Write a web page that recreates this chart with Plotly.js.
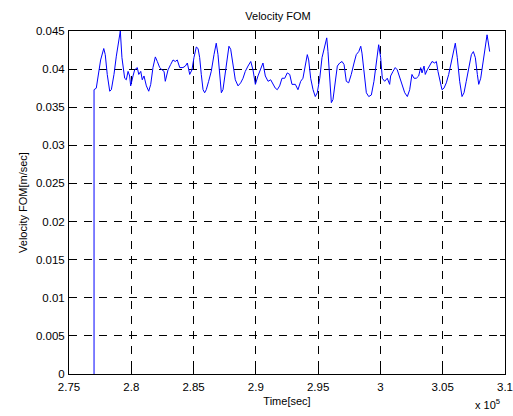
<!DOCTYPE html>
<html>
<head>
<meta charset="utf-8">
<script src="https://cdn.plot.ly/plotly-3.0.1.min.js"></script>
<style>html,body{margin:0;padding:0;background:#fff;}#chart{width:513px;height:416px;}</style>
</head>
<body>
<div id="chart"></div>
<script>
// Time in seconds
var timeSec = [277010, 277010, 277190, 277330, 277540, 277790, 277910, 278070, 278270, 278400, 278610,
  278800, 278990, 279120, 279250, 279470, 279600, 279740, 279870, 279950, 280140, 280270, 280480,
  280600, 280760, 280880, 281020, 281210, 281400, 281560, 281740, 281930, 282090, 282280, 282470,
  282630, 282730, 282950, 283160, 283350, 283530, 283690, 283890, 284150, 284340, 284500, 284690,
  284870, 285030, 285220, 285360, 285490, 285620, 285760, 285890, 286020, 286210, 286420, 286640,
  286820, 286960, 287100, 287230, 287360, 287550, 287710, 287840, 287980, 288170, 288350, 288570,
  288780, 288970, 289150, 289370, 289590, 289770, 289960, 290170, 290390, 290570, 290760, 290980,
  291190, 291380, 291560, 291720, 291910, 292100, 292320, 292520, 292720, 292900, 293170, 293380,
  293600, 293780, 293970, 294130, 294240, 294400, 294590, 294770, 294930, 295130, 295310, 295530,
  295690, 295790, 295930, 296060, 296190, 296330, 296540, 296730, 296920, 297080, 297260, 297450,
  297660, 297880, 298060, 298260, 298420, 298520, 298680, 298870, 299060, 299270, 299480, 299670,
  299860, 300020, 300150, 300340, 300550, 300740, 300820, 301010, 301190, 301350, 301550, 301730,
  301950, 302160, 302350, 302530, 302700, 302880, 303070, 303230, 303340, 303500, 303600, 303760,
  303960, 304140, 304360, 304490, 304620, 304840, 304940, 305100, 305290, 305480, 305690, 305910,
  306010, 306170, 306360, 306550, 306710, 306890, 307090, 307300, 307460, 307620, 307780, 307890,
  308050, 308240, 308420, 308560, 308640, 308770];
// Velocity FOM in m/sec
var velocityFOM = [0, 0.0373, 0.0375, 0.0388, 0.0412, 0.0427, 0.0419, 0.0393, 0.0371, 0.0373, 0.0393,
  0.0417, 0.0437, 0.0450, 0.0415, 0.0388, 0.0386, 0.0397, 0.0391, 0.0378, 0.0391, 0.0399, 0.0402,
  0.0393, 0.0397, 0.0386, 0.0391, 0.0378, 0.0371, 0.0380, 0.0402, 0.0416, 0.0410, 0.0402, 0.0399,
  0.0397, 0.0384, 0.0399, 0.0406, 0.0412, 0.0410, 0.0412, 0.0402, 0.0402, 0.0404, 0.0408, 0.0393,
  0.0399, 0.0415, 0.0429, 0.0427, 0.0415, 0.0393, 0.0373, 0.0369, 0.0373, 0.0384, 0.0397, 0.0419,
  0.0434, 0.0419, 0.0388, 0.0369, 0.0373, 0.0397, 0.0421, 0.0430, 0.0426, 0.0406, 0.0386, 0.0378,
  0.0382, 0.0388, 0.0397, 0.0404, 0.0410, 0.0399, 0.0380, 0.0391, 0.0402, 0.0408, 0.0391, 0.0384,
  0.0386, 0.0380, 0.0375, 0.0373, 0.0378, 0.0388, 0.0388, 0.0395, 0.0393, 0.0380, 0.0380, 0.0373,
  0.0384, 0.0388, 0.0406, 0.0419, 0.0412, 0.0388, 0.0373, 0.0364, 0.0369, 0.0388, 0.0415, 0.0432,
  0.0441, 0.0423, 0.0393, 0.0356, 0.0360, 0.0378, 0.0404, 0.0408, 0.0410, 0.0406, 0.0384, 0.0382,
  0.0393, 0.0408, 0.0419, 0.0423, 0.0430, 0.0421, 0.0397, 0.0369, 0.0364, 0.0366, 0.0384, 0.0410,
  0.0432, 0.0415, 0.0388, 0.0384, 0.0388, 0.0380, 0.0391, 0.0397, 0.0402, 0.0399, 0.0388, 0.0378,
  0.0369, 0.0364, 0.0373, 0.0393, 0.0388, 0.0388, 0.0391, 0.0402, 0.0395, 0.0404, 0.0393, 0.0399,
  0.0406, 0.0410, 0.0408, 0.0410, 0.0397, 0.0380, 0.0373, 0.0375, 0.0382, 0.0393, 0.0410, 0.0428,
  0.0434, 0.0415, 0.0384, 0.0364, 0.0369, 0.0384, 0.0402, 0.0419, 0.0423, 0.0415, 0.0393, 0.0380,
  0.0388, 0.0410, 0.0430, 0.0445, 0.0437, 0.0423];

var xTickVals = [275000, 280000, 285000, 290000, 295000, 300000, 305000, 310000];
var xTickText = ['2.75', '2.8', '2.85', '2.9', '2.95', '3', '3.05', '3.1'];
var yTickVals = [0, 0.005, 0.01, 0.015, 0.02, 0.025, 0.03, 0.035, 0.04, 0.045];
var yTickText = ['0', '0.005', '0.01', '0.015', '0.02', '0.025', '0.03', '0.035', '0.04', '0.045'];

var fam = 'Liberation Sans, Arial, sans-serif';
var font = {family: fam, size: 11, color: '#000'};
var tickFont = {family: fam, size: 11.5, color: '#000'};

var trace = {
  x: timeSec, y: velocityFOM, type: 'scatter', mode: 'lines',
  line: {color: '#0000ff', width: 1}, hoverinfo: 'none'
};

var axisCommon = {
  showline: true, linecolor: '#000', linewidth: 1, mirror: 'ticks',
  ticks: 'inside', ticklen: 5, tickcolor: '#000', tickwidth: 1,
  showgrid: true, gridcolor: '#000', gridwidth: 1, griddash: '8px,7px',
  zeroline: false, tickfont: tickFont
};

var layout = {
  width: 513, height: 416,
  margin: {l: 69, r: 8, t: 31, b: 42},
  paper_bgcolor: '#fff', plot_bgcolor: '#fff',
  showlegend: false,
  font: font,
  title: {text: 'Velocity FOM', font: font, x: 0.542, xanchor: 'center', y: 0.9615, yanchor: 'middle', yref: 'container'},
  xaxis: Object.assign({}, axisCommon, {
    range: [275000, 310000], tickmode: 'array', tickvals: xTickVals, ticktext: xTickText,
    ticklabelstandoff: 2,
    title: {text: 'Time[sec]', font: font, standoff: 5}
  }),
  yaxis: Object.assign({}, axisCommon, {
    range: [0, 0.045], tickmode: 'array', tickvals: yTickVals, ticktext: yTickText,
    ticklabelstandoff: 1,
    title: {text: 'Velocity FOM[m/sec]', font: font, standoff: 6}
  }),
  annotations: [{
    text: 'x 10<sup>5</sup>', xref: 'paper', yref: 'paper', x: 0.994, y: -0.0875,
    xanchor: 'right', yanchor: 'middle', showarrow: false, font: font
  }]
};

Plotly.newPlot('chart', [trace], layout, {staticPlot: true, displayModeBar: false});
</script>
</body>
</html>
